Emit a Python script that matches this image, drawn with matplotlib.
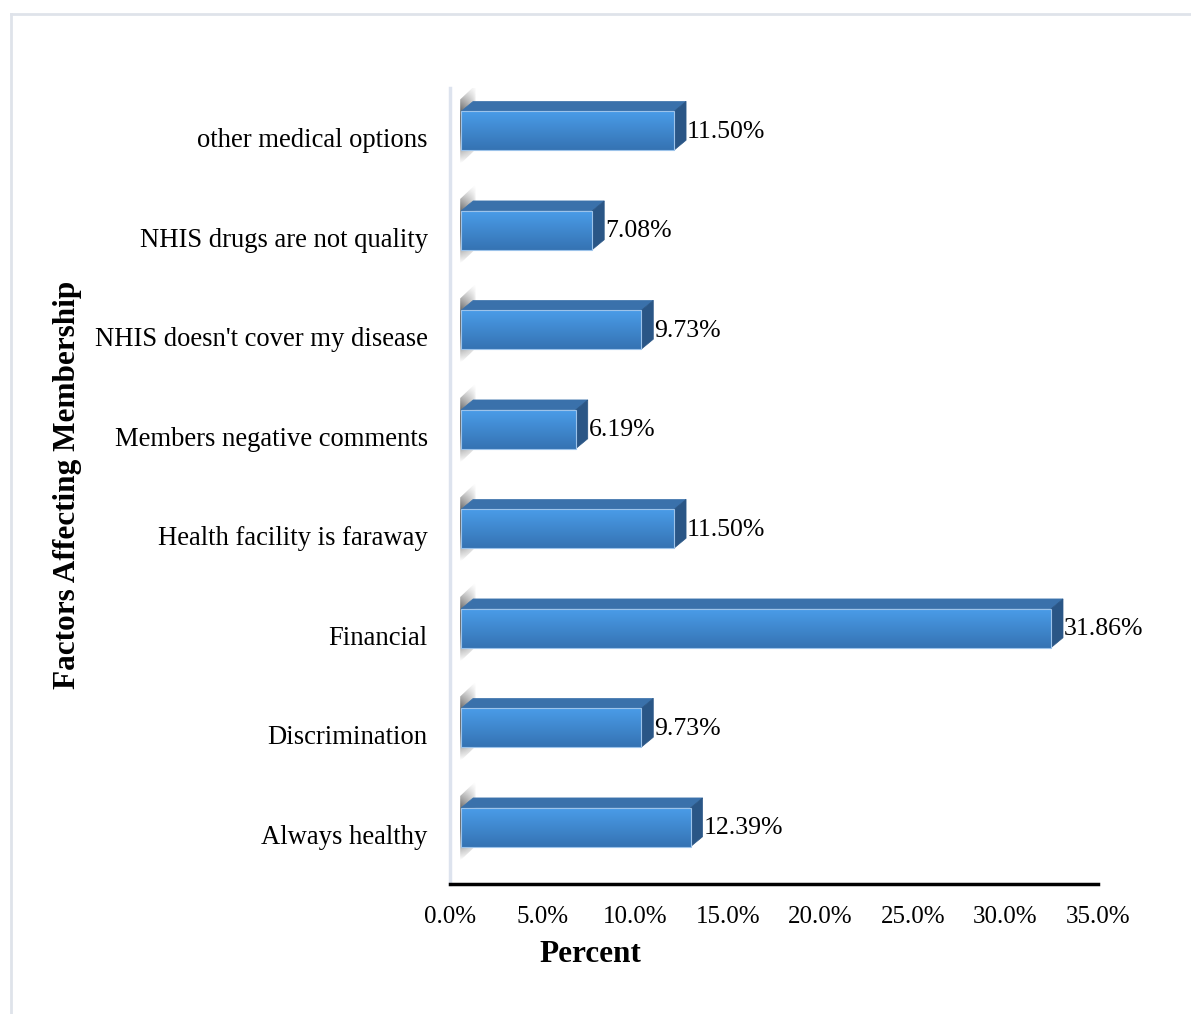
import numpy as np
import matplotlib.pyplot as plt
from matplotlib.patches import Polygon, Rectangle
from matplotlib.lines import Line2D
from matplotlib.colors import to_rgb

plt.rcParams['font.family'] = ['Liberation Serif', 'DejaVu Serif']

factors = ['Always healthy', 'Discrimination', 'Financial',
           'Health facility is faraway', 'Members negative comments',
           "NHIS doesn't cover my disease", 'NHIS drugs are not quality',
           'other medical options']
percent = [12.39, 9.73, 31.86, 11.50, 6.19, 9.73, 7.08, 11.50]
xticks = [0, 5, 10, 15, 20, 25, 30, 35]

W, H = 1191, 1014
fig = plt.figure(figsize=(W / 100, H / 100), dpi=100)
ax = fig.add_axes([450 / W, 1 - 884 / H, (1098 - 450) / W, (884 - 88) / H])
ax.set_xlim(0, 35)
ax.set_ylim(-0.5, 7.5)

# 3d look: depth offset of the bars
x0 = 0.6          # front face starts a bit off the wall
dx, dy = 0.65, 0.10
lo, hi = -0.125, 0.265

front_top = np.array(to_rgb('#4a9ce8'))
front_bot = np.array(to_rgb('#3573b3'))
grad = np.linspace(0, 1, 64)[:, None]
grad_img = front_top * (1 - grad[..., None]) + front_bot * grad[..., None]

# grey shadow the bars cast on the side wall
shade = np.ones((40, 64, 4))
shade[..., :3] = 0.3
xs = np.linspace(0, 1, 64)
ys = np.linspace(0, 1, 40)
shade[..., 3] = (1.0 * (1 - xs)[None, :] ** 0.5) * np.clip(np.minimum(ys, 1 - ys)[:, None] * 2.5, 0, 1)

for i, v in enumerate(percent):
    sh = Polygon([(x0 - 0.05, i + lo - 0.14), (x0 + 0.8, i + lo + 0.01),
                  (x0 + 0.8, i + hi + 0.27), (x0 - 0.05, i + hi + 0.12)],
                 closed=True, facecolor='none', edgecolor='none')
    ax.add_patch(sh)
    im = ax.imshow(shade, extent=(x0 - 0.05, x0 + 0.8, i + lo - 0.14, i + hi + 0.27),
                   aspect='auto', origin='lower', zorder=1, interpolation='bilinear')
    im.set_clip_path(sh)

    x1 = x0 + v
    # top face
    ax.add_patch(Polygon([(x0, i + hi), (x1, i + hi), (x1 + dx, i + hi + dy),
                          (x0 + dx, i + hi + dy)], closed=True,
                         facecolor='#3a71ab', edgecolor='#3a71ab', lw=0.5, zorder=2))
    # right side face
    ax.add_patch(Polygon([(x1, i + lo), (x1 + dx, i + lo + dy), (x1 + dx, i + hi + dy),
                          (x1, i + hi)], closed=True,
                         facecolor='#2a5686', edgecolor='#2a5686', lw=0.5, zorder=2))
    # front face with vertical gradient
    ax.imshow(grad_img, extent=(x0, x1, i + lo, i + hi), aspect='auto',
              origin='upper', zorder=3, interpolation='bilinear')
    ax.add_patch(Rectangle((x0, i + lo), v, hi - lo, facecolor='none',
                           edgecolor='#9cc3ea', lw=0.8, zorder=4))
    ax.text(x1 + dx + 0.05, i + 0.06, f'{v:.2f}%', fontsize=18.5, va='center',
            ha='left', color='black', zorder=5)

ax.set_xlim(0, 35)
ax.set_ylim(-0.5, 7.5)
ax.set_xticks(xticks)
ax.set_xticklabels([f'{t:.1f}%' for t in xticks], fontsize=18)
ax.set_yticks(range(len(factors)))
ax.set_yticklabels(factors, fontsize=19.2)
ax.tick_params(axis='x', length=0, pad=16)
ax.tick_params(axis='y', length=0, pad=16)

for s in ['top', 'right']:
    ax.spines[s].set_visible(False)
ax.spines['left'].set_color('#dde3ee')
ax.spines['left'].set_linewidth(2.5)
ax.spines['bottom'].set_color('black')
ax.spines['bottom'].set_linewidth(2.5)

ax.set_xlabel('Percent', fontsize=22.5, fontweight='bold')
ax.xaxis.set_label_coords((590 - 450) / 648, -(955 - 884) / 796, transform=ax.transAxes)
ax.xaxis.label.set_va('center')
fig.text(68 / W, 1 - 485 / H, 'Factors Affecting Membership', fontsize=22.5,
         fontweight='bold', rotation=90, ha='center', va='center')

# chart area border
fig.add_artist(Line2D([11 / W, 11 / W], [0, 1 - 14 / H], color='#dfe3ea', lw=2))
fig.add_artist(Line2D([11 / W, 1], [1 - 14 / H, 1 - 14 / H], color='#dfe3ea', lw=2))

fig.savefig('out.png', dpi=100)
